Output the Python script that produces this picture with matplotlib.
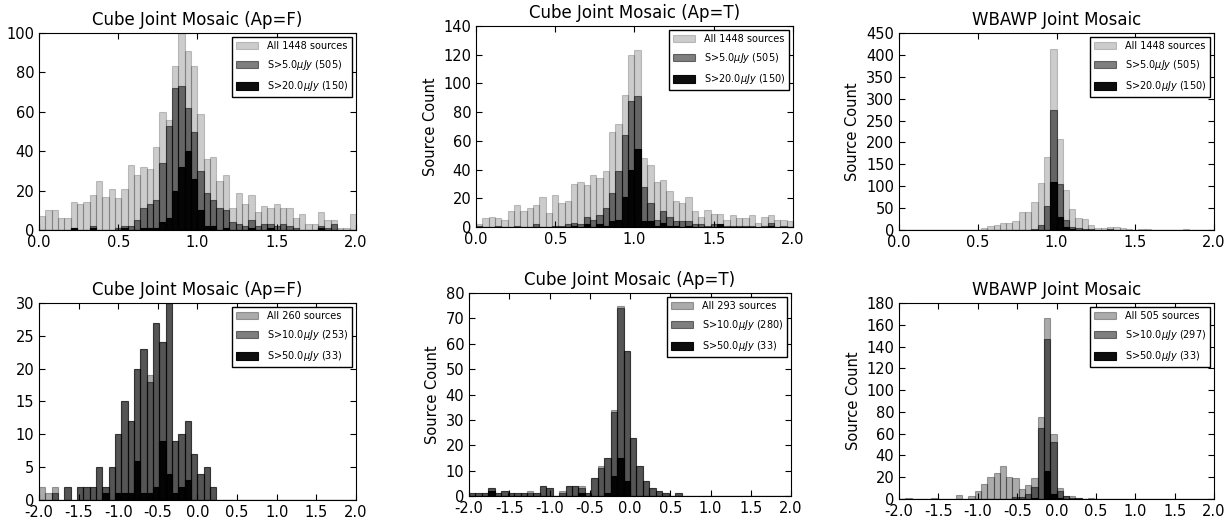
import matplotlib
matplotlib.use('Agg')
import matplotlib.pyplot as plt
import numpy as np

# bin counts (50 bins per panel)
# top row: flux ratio, 0..2, bins of 0.04
tl_all = [7, 10, 10, 6, 6, 14, 13, 14, 18, 25, 17, 21, 16, 21, 33, 28, 32, 31, 42, 60,
          56, 83, 100, 91, 83, 59, 36, 37, 25, 28, 11, 19, 13, 18, 9, 12, 11, 13, 11, 11,
          6, 8, 3, 3, 9, 5, 5, 1, 1, 8]
tl_s5 = [0, 0, 0, 0, 0, 1, 0, 0, 2, 0, 0, 0, 1, 2, 2, 5, 11, 13, 15, 34,
         53, 72, 73, 62, 50, 30, 19, 15, 11, 10, 4, 3, 2, 5, 2, 3, 3, 2, 3, 2,
         1, 0, 0, 0, 2, 1, 3, 0, 0, 0]
tl_s20 = [0, 0, 0, 0, 0, 1, 0, 0, 1, 0, 0, 0, 0, 1, 0, 0, 1, 1, 1, 4,
          6, 20, 32, 40, 26, 10, 2, 2, 0, 1, 0, 0, 0, 1, 0, 0, 1, 0, 0, 0,
          0, 0, 0, 0, 1, 0, 0, 0, 0, 0]

tm_all = [2, 6, 7, 6, 5, 11, 15, 11, 13, 15, 21, 10, 22, 17, 18, 30, 31, 29, 36, 34,
          39, 66, 72, 92, 120, 123, 48, 43, 31, 33, 25, 18, 17, 21, 11, 7, 12, 9, 9, 5,
          8, 6, 6, 8, 3, 7, 8, 5, 5, 4]
tm_s5 = [1, 0, 0, 1, 0, 0, 1, 0, 0, 2, 0, 0, 1, 1, 2, 3, 2, 7, 5, 8,
         13, 24, 39, 64, 88, 91, 28, 17, 5, 11, 7, 4, 4, 4, 2, 2, 1, 2, 1, 1,
         1, 1, 1, 1, 0, 1, 3, 0, 1, 0]
tm_s20 = [0, 0, 0, 0, 0, 0, 0, 0, 0, 0, 0, 0, 0, 0, 0, 1, 0, 2, 0, 2,
          1, 4, 5, 21, 40, 54, 4, 4, 1, 3, 1, 1, 0, 1, 0, 0, 0, 0, 2, 0,
          0, 0, 0, 0, 0, 0, 1, 0, 0, 0]

tr_all = [1, 0, 1, 0, 1, 1, 0, 1, 0, 1, 1, 1, 1, 5, 9, 11, 15, 17, 21, 41,
          42, 65, 108, 167, 413, 207, 92, 48, 27, 25, 12, 5, 4, 8, 6, 4, 3, 1, 3, 2,
          1, 1, 0, 1, 1, 2, 0, 1, 0, 1]
tr_s5 = [0, 0, 0, 0, 0, 0, 0, 0, 0, 0, 0, 0, 0, 1, 0, 0, 0, 0, 0, 1,
         1, 3, 12, 55, 275, 105, 22, 8, 4, 2, 2, 1, 0, 2, 1, 0, 1, 0, 1, 0,
         0, 0, 0, 0, 0, 1, 0, 0, 0, 0]
tr_s20 = [0, 0, 0, 0, 0, 0, 0, 0, 0, 0, 0, 0, 0, 0, 0, 0, 0, 0, 0, 0,
          0, 0, 0, 0, 110, 30, 7, 3, 0, 0, 0, 0, 0, 0, 0, 0, 0, 0, 0, 0,
          0, 0, 0, 0, 0, 0, 0, 0, 0, 0]

# bottom row: spectral index, -2..2, bins of 0.08
bl_all = [2, 1, 2, 0, 2, 0, 2, 2, 2, 5, 2, 5, 10, 15, 12, 20, 23, 19, 27, 24,
          30, 9, 10, 12, 7, 4, 5, 2, 0, 0, 0, 0, 0, 0, 0, 0, 0, 0, 0, 0,
          0, 0, 0, 0, 0, 0, 0, 0, 0, 0]
bl_s10 = [0, 0, 1, 0, 2, 0, 2, 2, 2, 5, 2, 5, 10, 15, 12, 20, 23, 18, 27, 24,
          30, 9, 10, 12, 7, 4, 5, 2, 0, 0, 0, 0, 0, 0, 0, 0, 0, 0, 0, 0,
          0, 0, 0, 0, 0, 0, 0, 0, 0, 0]
bl_s50 = [0, 0, 0, 0, 0, 0, 0, 0, 0, 0, 1, 0, 1, 1, 1, 6, 1, 1, 2, 9,
          4, 1, 2, 3, 0, 0, 0, 0, 0, 0, 0, 0, 0, 0, 0, 0, 0, 0, 0, 0,
          0, 0, 0, 0, 0, 0, 0, 0, 0, 0]

bm_all = [1, 1, 1, 3, 1, 2, 1, 1, 1, 2, 1, 4, 3, 0, 2, 4, 4, 4, 1, 7,
          12, 15, 34, 75, 57, 23, 12, 6, 3, 2, 1, 0, 1, 0, 0, 0, 0, 0, 0, 0,
          0, 0, 0, 0, 0, 0, 0, 0, 0, 0]
bm_s10 = [1, 1, 1, 3, 1, 2, 1, 1, 1, 1, 1, 4, 3, 0, 1, 4, 4, 3, 1, 7,
          11, 15, 33, 74, 57, 23, 12, 6, 3, 2, 1, 0, 1, 0, 0, 0, 0, 0, 0, 0,
          0, 0, 0, 0, 0, 0, 0, 0, 0, 0]
bm_s50 = [0, 0, 0, 2, 0, 0, 0, 0, 0, 0, 0, 0, 0, 0, 0, 0, 0, 1, 0, 0,
          0, 1, 8, 15, 6, 0, 0, 0, 0, 0, 0, 0, 0, 0, 0, 0, 0, 0, 0, 0,
          0, 0, 0, 0, 0, 0, 0, 0, 0, 0]

br_all = [0, 1, 0, 0, 0, 1, 0, 0, 0, 4, 0, 3, 7, 14, 20, 24, 30, 20, 19, 9,
          13, 19, 75, 166, 60, 10, 3, 3, 1, 0, 1, 0, 0, 0, 0, 0, 0, 0, 0, 0,
          0, 0, 0, 0, 0, 0, 0, 0, 0, 0]
br_s10 = [0, 0, 0, 0, 0, 0, 0, 0, 0, 0, 0, 0, 0, 0, 0, 0, 0, 0, 2, 2,
          5, 11, 65, 147, 52, 7, 3, 1, 1, 0, 0, 0, 0, 0, 0, 0, 0, 0, 0, 0,
          0, 0, 0, 0, 0, 0, 0, 0, 0, 0]
br_s50 = [0, 0, 0, 0, 0, 0, 0, 0, 0, 0, 0, 0, 0, 0, 0, 0, 0, 0, 0, 0,
          0, 1, 0, 26, 5, 1, 0, 0, 0, 0, 0, 0, 0, 0, 0, 0, 0, 0, 0, 0,
          0, 0, 0, 0, 0, 0, 0, 0, 0, 0]

titles = ['Cube Joint Mosaic (Ap=F)', 'Cube Joint Mosaic (Ap=T)', 'WBAWP Joint Mosaic']
top_labels = [['All 1448 sources', r'S>5.0$\mu Jy$ (505)', r'S>20.0$\mu Jy$ (150)']] * 3
bot_labels = [['All 260 sources', r'S>10.0$\mu Jy$ (253)', r'S>50.0$\mu Jy$ (33)'],
              ['All 293 sources', r'S>10.0$\mu Jy$ (280)', r'S>50.0$\mu Jy$ (33)'],
              ['All 505 sources', r'S>10.0$\mu Jy$ (297)', r'S>50.0$\mu Jy$ (33)']]

plt.rcParams['font.family'] = 'DejaVu Sans'
plt.rcParams['xtick.direction'] = 'in'
plt.rcParams['ytick.direction'] = 'in'
plt.rcParams['xtick.top'] = True
plt.rcParams['ytick.right'] = True
plt.rcParams['xtick.major.size'] = 4
plt.rcParams['ytick.major.size'] = 4
plt.rcParams['xtick.labelsize'] = 10.5
plt.rcParams['ytick.labelsize'] = 10.5


def panel(rect, series, labels, alphas, lo, hi, ymax, ystep, title, ylabel):
    ax = fig.add_axes(rect)
    edges = np.linspace(lo, hi, 51)
    w = edges[1] - edges[0]
    for counts, lab, a in zip(series, labels, alphas):
        ax.bar(edges[:-1], counts, width=w, align='edge', color='k',
               edgecolor='k', linewidth=0.8, alpha=a, label=lab)
    ax.set_xlim(lo, hi)
    ax.set_ylim(0, ymax)
    ax.set_xticks(np.arange(lo, hi + 0.01, 0.5))
    ax.set_xticklabels(['%.1f' % v for v in np.arange(lo, hi + 0.01, 0.5)])
    ax.set_yticks(np.arange(0, ymax + 1, ystep))
    ax.set_title(title, fontsize=12)
    if ylabel:
        ax.set_ylabel('Source Count', fontsize=10.5)
    leg = ax.legend(loc='upper right', fontsize=7, fancybox=False,
                    framealpha=1, borderaxespad=0.4, labelspacing=0.75,
                    handlelength=2.3, handleheight=0.8, handletextpad=0.9,
                    borderpad=0.4)
    leg.get_frame().set_edgecolor('k')
    leg.get_frame().set_linewidth(1.0)
    return ax


fig = plt.figure(figsize=(12.3, 5.23), dpi=100, facecolor='white')

top_alpha = [0.2, 0.5, 0.95]
bot_alpha = [0.33, 0.5, 0.95]

panel([0.0317, 0.5602, 0.2577, 0.3767], [tl_all, tl_s5, tl_s20], top_labels[0],
      top_alpha, 0, 2, 100, 20, titles[0], False)
panel([0.387, 0.566, 0.2577, 0.3843], [tm_all, tm_s5, tm_s20], top_labels[1],
      top_alpha, 0, 2, 140, 20, titles[1], True)
panel([0.7309, 0.5602, 0.2561, 0.3767], [tr_all, tr_s5, tr_s20], top_labels[2],
      top_alpha, 0, 2, 450, 50, titles[2], True)

panel([0.0317, 0.044, 0.2577, 0.3767], [bl_all, bl_s10, bl_s50], bot_labels[0],
      bot_alpha, -2, 2, 30, 5, titles[0], False)
panel([0.3813, 0.0516, 0.2618, 0.388], [bm_all, bm_s10, bm_s50], bot_labels[1],
      bot_alpha, -2, 2, 80, 10, titles[1], True)
panel([0.7309, 0.0459, 0.2561, 0.3748], [br_all, br_s10, br_s50], bot_labels[2],
      bot_alpha, -2, 2, 180, 20, titles[2], True)

fig.savefig('out.png', dpi=100, facecolor='white')
